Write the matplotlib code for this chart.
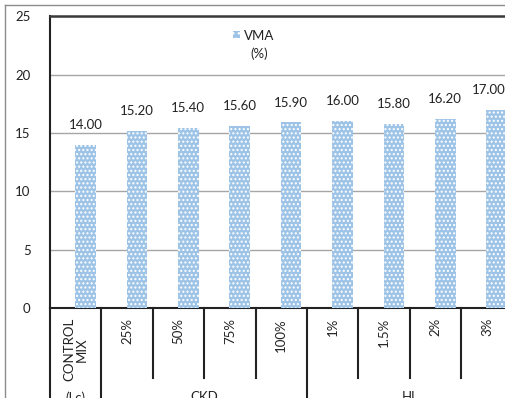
import matplotlib
matplotlib.use("Agg")
import matplotlib.pyplot as plt
from matplotlib.lines import Line2D
from matplotlib.patches import Rectangle

# Data
categories = ["CONTROL\nMIX", "25%", "50%", "75%", "100%", "1%", "1.5%", "2%", "3%"]
vma = [14.00, 15.20, 15.40, 15.60, 15.90, 16.00, 15.80, 16.20, 17.00]
groups = ["(Lc)", "CKD", "HL"]
group_spans = [(0, 0), (1, 4), (5, 8)]
yticks = [0, 5, 10, 15, 20, 25]

W, H = 506, 398
plt.rcParams["font.family"] = ["Lato", "DejaVu Sans"]
plt.rcParams["hatch.linewidth"] = 1.0

fig = plt.figure(figsize=(W / 100, H / 100), dpi=100)
fig.patch.set_facecolor("white")

# plot area (extends a little past the right edge of the canvas)
x0, x1 = 50, 512.6
y_top, y_bot = 16.3, 308
ax = fig.add_axes([x0 / W, 1 - y_bot / H, (x1 - x0) / W, (y_bot - y_top) / H])

bar_color = "#9dc3e6"
bar_hatch = "...."
xs = [i + 0.19 for i in range(len(vma))]
ax.bar(xs, vma, width=0.40, color=bar_color, edgecolor="white", hatch=bar_hatch,
       linewidth=0, zorder=3)

ax.set_xlim(-0.5, len(vma) - 0.5)
ax.set_ylim(0, 25)
ax.set_yticks(yticks)
ax.set_yticklabels([str(t) for t in yticks], fontsize=9.5, color="#222222")
ax.tick_params(axis="y", length=0, pad=14)
ax.grid(axis="y", color="#a6a6a6", linewidth=1, zorder=0)

ax.spines["right"].set_visible(False)
ax.spines["left"].set_color("#222222")
ax.spines["left"].set_linewidth(1.5)
ax.spines["bottom"].set_color("#222222")
ax.spines["bottom"].set_linewidth(1.5)
ax.spines["top"].set_color("#3a3a3a")
ax.spines["top"].set_linewidth(1.8)

# value labels
for i, (x, v) in enumerate(zip(xs, vma)):
    dx = -6 if i == len(vma) - 1 else 0
    ax.annotate(f"{v:.2f}", (x, v), xytext=(dx, 10), textcoords="offset points",
                ha="center", va="bottom", fontsize=9.5, color="#222222")

# category labels (first level)
ax.set_xticks([])
tr = ax.get_xaxis_transform()
ax_h_px = y_bot - y_top
for i, lab in enumerate(categories):
    ax.text(i, -10 / ax_h_px, lab, transform=tr, rotation=90, ha="center",
            va="top", fontsize=9.5, color="#222222", linespacing=1.05,
            multialignment="center")

# separators between categories and groups
group_edges = {-0.5} | {e + 0.5 for _, e in group_spans}
for b in range(len(categories) + 1):
    xb = b - 0.5
    if xb in group_edges:
        y_end = -(H - y_bot + 5) / ax_h_px
    else:
        y_end = -(378 - y_bot) / ax_h_px
    ax.add_line(Line2D([xb, xb], [0, y_end], transform=tr, color="#222222",
                       linewidth=1.5, clip_on=False))

# group labels (second level)
for name, (s, e) in zip(groups, group_spans):
    ax.text((s + e) / 2, -(391 - y_bot) / ax_h_px, name, transform=tr,
            ha="center", va="top", fontsize=9.5, color="#222222")

# legend
fig.patches.append(Rectangle((233.5 / W, 1 - 38 / H), 7 / W, 7 / H,
                             transform=fig.transFigure, facecolor=bar_color,
                             edgecolor="white", hatch="...", linewidth=0))
fig.text(259 / W, 1 - 45 / H, "VMA\n(%)", ha="center", va="center",
         fontsize=9.5, color="#222222", linespacing=1.6)

# chart frame
fig.lines.append(Line2D([5 / W, 1.1], [1 - 5 / H, 1 - 5 / H],
                        transform=fig.transFigure, color="#8c8c8c", linewidth=1))
fig.lines.append(Line2D([5 / W, 5 / W], [1 - 5 / H, -0.1],
                        transform=fig.transFigure, color="#8c8c8c", linewidth=1))

fig.savefig("out.png", dpi=100)
